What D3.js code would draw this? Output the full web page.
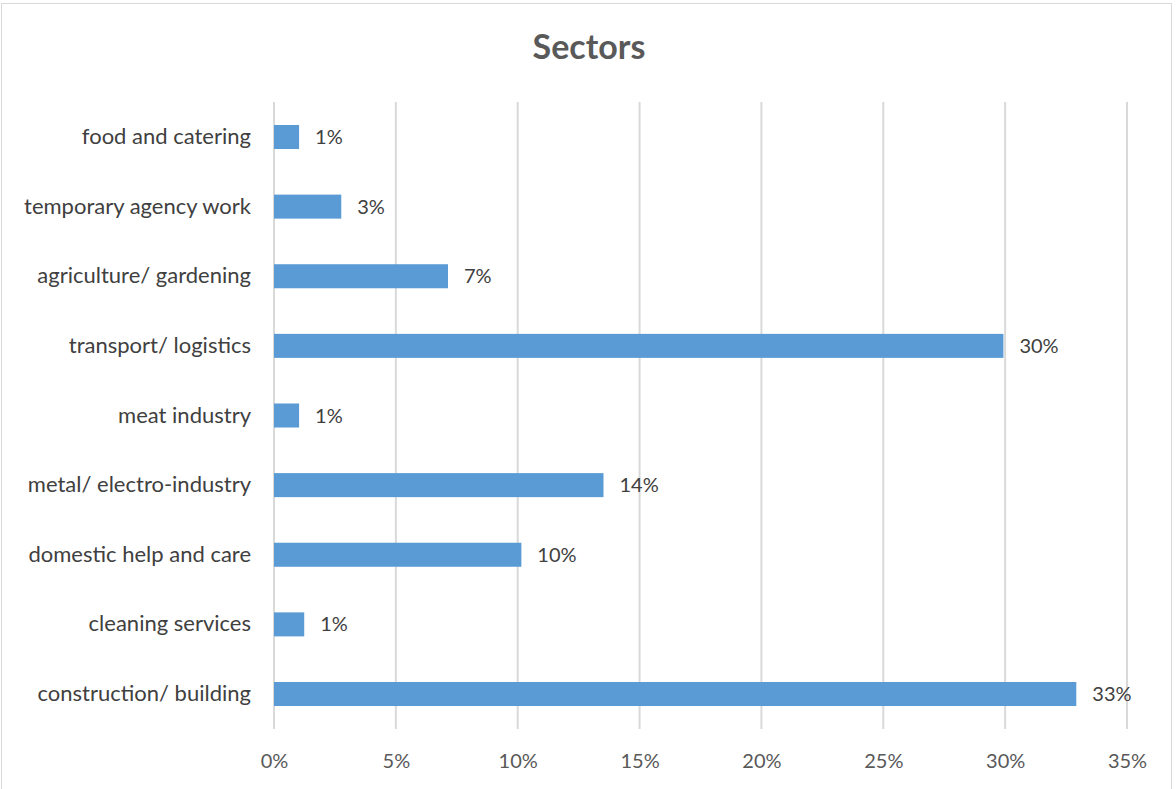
<!DOCTYPE html>
<html>
<head>
<meta charset="utf-8">
<script src="https://cdn.jsdelivr.net/npm/d3@7"></script>
<style>
  html, body { margin: 0; padding: 0; background: #fff; }
  svg { display: block; }
  text { font-family: Lato, "Open Sans", sans-serif; }
</style>
</head>
<body>
<div id="chart"></div>
<script>
// Sector shares (fractions), listed top to bottom
const categories = [
  "food and catering",
  "temporary agency work",
  "agriculture/ gardening",
  "transport/ logistics",
  "meat industry",
  "metal/ electro-industry",
  "domestic help and care",
  "cleaning services",
  "construction/ building"
];
const shares = [0.0103, 0.0276, 0.0714, 0.2993, 0.0103, 0.1352, 0.1015, 0.0124, 0.3292];
const xTicks = [0, 0.05, 0.10, 0.15, 0.20, 0.25, 0.30, 0.35];
const chartTitle = "Sectors";

const W = 1176, H = 789;
const margin = { left: 274, right: 49, top: 102, bottom: 60 };
const FS = 20;

const svg = d3.select("#chart").append("svg")
  .attr("width", W).attr("height", H);

// chart area frame
svg.append("rect")
  .attr("x", 1.5).attr("y", 3.5)
  .attr("width", 1170).attr("height", 790)
  .attr("fill", "#fff").attr("stroke", "#d9d9d9").attr("stroke-width", 1);

const x = d3.scaleLinear().domain([0, 0.35]).range([margin.left, W - margin.right]);
const y = d3.scaleBand().domain(categories).range([margin.top, H - margin.bottom]).paddingInner(0.655).paddingOuter(0.33);

// vertical gridlines
svg.append("g").selectAll("line").data(xTicks).join("line")
  .attr("x1", d => x(d)).attr("x2", d => x(d))
  .attr("y1", margin.top).attr("y2", H - margin.bottom)
  .attr("stroke", "#d9d9d9").attr("stroke-width", 2);

// x axis tick labels
const xAxis = d3.axisBottom(x).tickValues(xTicks).tickFormat(d3.format(".0%")).tickSize(0).tickPadding(0);
const gx = svg.append("g").attr("transform", `translate(0,${H - margin.bottom + 25})`).call(xAxis);
gx.select(".domain").remove();
gx.selectAll("text")
  .attr("dy", "0.71em")
  .attr("font-size", FS).attr("fill", "#595959")
  .style("font-family", "Lato, sans-serif");

// y axis category labels
const yAxis = d3.axisLeft(y).tickSize(0).tickPadding(23);
const gy = svg.append("g").attr("transform", `translate(${margin.left},0)`).call(yAxis);
gy.select(".domain").remove();
gy.selectAll("text")
  .attr("font-size", 22).attr("fill", "#404040")
  .style("font-family", "Lato, sans-serif");

// bars
svg.append("g").selectAll("rect").data(categories).join("rect")
  .attr("x", x(0))
  .attr("y", d => y(d))
  .attr("width", (d, i) => x(shares[i]) - x(0))
  .attr("height", y.bandwidth())
  .attr("fill", "#5b9bd5");

// value labels
svg.append("g").selectAll("text").data(categories).join("text")
  .attr("x", (d, i) => x(shares[i]) + 16)
  .attr("y", d => y(d) + y.bandwidth() / 2)
  .attr("dy", "0.35em")
  .attr("font-size", FS).attr("fill", "#404040")
  .text((d, i) => d3.format(".0%")(shares[i]));

// title
svg.append("text")
  .attr("x", W / 2 + 1).attr("y", 59)
  .attr("text-anchor", "middle")
  .attr("font-size", 34).attr("font-weight", "bold").attr("fill", "#595959")
  .text(chartTitle);
</script>
</body>
</html>
